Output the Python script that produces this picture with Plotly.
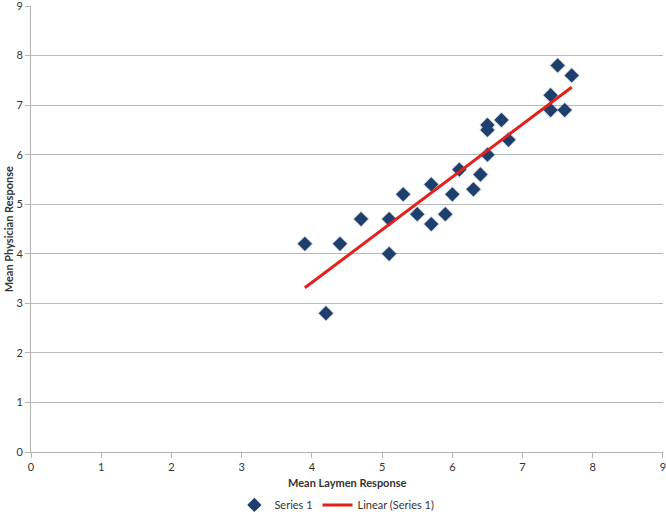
import numpy as np
import plotly.graph_objects as go

laymen = [3.9, 4.2, 4.4, 4.7, 5.1, 5.1, 5.3, 5.5, 5.7, 5.7, 5.9, 6.0, 6.1,
          6.3, 6.4, 6.5, 6.5, 6.5, 6.7, 6.8, 7.4, 7.4, 7.5, 7.6, 7.7]
physician = [4.2, 2.8, 4.2, 4.7, 4.7, 4.0, 5.2, 4.8, 5.4, 4.6, 4.8, 5.2, 5.7,
             5.3, 5.6, 6.0, 6.5, 6.6, 6.7, 6.3, 7.2, 6.9, 7.8, 6.9, 7.6]
tick_vals = list(range(0, 10))
x_title = "Mean Laymen Response"
y_title = "Mean Physician Response"

slope, intercept = np.polyfit(laymen, physician, 1)
fit_x = [min(laymen), max(laymen)]
fit_y = [slope * v + intercept for v in fit_x]

FONT = "Lato, Open Sans, sans-serif"

fig = go.Figure()
fig.add_trace(go.Scatter(
    x=laymen, y=physician, mode="markers", showlegend=False, hoverinfo="skip",
    marker=dict(symbol="diamond", size=13, color="rgba(30,50,80,0.15)", line=dict(width=0)),
))
fig.add_trace(go.Scatter(
    x=laymen, y=physician, mode="markers", name="Series 1",
    marker=dict(symbol="diamond", size=11, color="#1d3f6e", line=dict(width=0)),
))
fig.add_trace(go.Scatter(
    x=fit_x, y=fit_y, mode="lines", name="Linear (Series 1)",
    line=dict(color="#e3211c", width=3),
))

axis_common = dict(
    range=[0, 9.0001], tickvals=tick_vals, ticks="outside", ticklen=5, tickcolor="#b3b3b3",
    showline=True, linecolor="#b3b3b3", linewidth=1, zeroline=False, automargin=False,
    ticklabeloverflow="allow",
    tickfont=dict(family=FONT, size=11, color="#333333"),
)
fig.update_xaxes(showgrid=False, **axis_common)
fig.update_yaxes(showgrid=True, gridcolor="#b8b8b8", gridwidth=1, **axis_common)

fig.update_layout(
    width=666, height=520,
    margin=dict(l=31, r=3, t=6, b=68, autoexpand=False),
    paper_bgcolor="white", plot_bgcolor="white",
    font=dict(family=FONT, size=11, color="#333333"),
    showlegend=True,
    legend=dict(orientation="h", x=0.484, xanchor="center",
                yref="container", y=0.029, yanchor="middle",
                font=dict(family=FONT, size=11, color="#333333")),
    annotations=[
        dict(text="<b>" + x_title + "</b>", xref="paper", yref="paper",
             x=0.5, y=-0.069, xanchor="center", yanchor="middle", showarrow=False,
             font=dict(family=FONT, size=11, color="#333333")),
        dict(text="<b>" + y_title + "</b>", xref="paper", yref="paper",
             x=-0.036, y=0.5, xanchor="center", yanchor="middle", textangle=-90,
             showarrow=False, font=dict(family=FONT, size=11, color="#333333")),
    ],
)

fig.write_html("out.html", config={"displayModeBar": False},
               post_script="document.body.style.margin='0';document.body.style.overflow='hidden';")
